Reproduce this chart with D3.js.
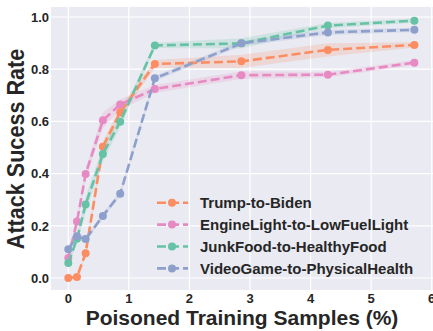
<!DOCTYPE html>
<html>
<head>
<meta charset="utf-8">
<script src="https://cdn.jsdelivr.net/npm/d3@7"></script>
<style>
  body { margin: 0; background: #fff; }
  text { font-family: "Liberation Sans", Arial, sans-serif; font-weight: bold; fill: #262626; }
</style>
</head>
<body>
<div id="canvas"></div>
<script>
const w = 433;
const h = 331;
const padL = 51, padR = 433, padT = 7, padB = 290;

// data
const samples = [0, 0.143, 0.286, 0.571, 0.857, 1.429, 2.857, 4.286, 5.714];
const names = ["Trump-to-Biden", "EngineLight-to-LowFuelLight", "JunkFood-to-HealthyFood", "VideoGame-to-PhysicalHealth"];
const colors = ["#fc8d62", "#e78ac3", "#66c2a5", "#8da0cb"];
const trump = [0.0, 0.004, 0.095, 0.503, 0.635, 0.82, 0.83, 0.874, 0.893];
const engine = [0.077, 0.216, 0.398, 0.604, 0.665, 0.724, 0.777, 0.779, 0.825];
const junk = [0.057, 0.15, 0.282, 0.475, 0.599, 0.891, 0.899, 0.967, 0.986];
const video = [0.11, 0.16, 0.149, 0.238, 0.323, 0.765, 0.899, 0.941, 0.951];
// half width of the shaded band
const trumpErr = [0.005, 0.005, 0.01, 0.02, 0.02, 0.015, 0.025, 0.025, 0.01];
const engineErr = [0.01, 0.015, 0.02, 0.03, 0.02, 0.015, 0.015, 0.01, 0.01];
const junkErr = [0.005, 0.02, 0.03, 0.03, 0.02, 0.01, 0.02, 0.01, 0.008];
const videoErr = [0.01, 0.015, 0.01, 0.01, 0.01, 0.01, 0.01, 0.01, 0.008];
const series = [trump, engine, junk, video];
const errs = [trumpErr, engineErr, junkErr, videoErr];
const xTicks = [0, 1, 2, 3, 4, 5, 6];
const yTicks = [0.0, 0.2, 0.4, 0.6, 0.8, 1.0];

let svg = d3.select("#canvas").append("svg").attr("width", w).attr("height", h);

let x = d3.scaleLinear().domain([0, 6]).range([68.3, 431.7]);
let y = d3.scaleLinear().domain([0, 1]).range([278, 17]);

svg.append("rect").attr("x", padL).attr("y", padT).attr("width", padR - padL).attr("height", padB - padT).attr("fill", "#eaeaf2");

let plot = svg.append("g");

plot.selectAll(".gx").data(xTicks).enter().append("line")
  .attr("x1", (d) => x(d)).attr("x2", (d) => x(d)).attr("y1", padT).attr("y2", padB)
  .attr("stroke", "#fff").attr("stroke-width", 1.2);
plot.selectAll(".gy").data(yTicks).enter().append("line")
  .attr("x1", padL).attr("x2", padR).attr("y1", (d) => y(d)).attr("y2", (d) => y(d))
  .attr("stroke", "#fff").attr("stroke-width", 1.2);

// tick labels
svg.selectAll(".xt").data(xTicks).enter().append("text")
  .attr("x", (d) => x(d)).attr("y", 303).attr("text-anchor", "middle")
  .attr("font-size", 13).text((d) => d);
svg.selectAll(".yt").data(yTicks).enter().append("text")
  .attr("x", 49).attr("y", (d) => y(d) + 4.7).attr("text-anchor", "end")
  .attr("font-size", 13).text((d) => d.toFixed(1));

let band = d3.area().x((d) => x(d.x)).y0((d) => y(d.lo)).y1((d) => y(d.hi));
let line = d3.line().x((d) => x(d.x)).y((d) => y(d.y));

series.forEach(function(s, k) {
  let pts = samples.map((v, i) => ({x: v, y: s[i], lo: s[i] - errs[k][i], hi: s[i] + errs[k][i]}));
  plot.append("path").datum(pts).attr("d", band).attr("fill", colors[k]).attr("opacity", 0.2);
});

series.forEach(function(s, k) {
  let pts = samples.map((v, i) => ({x: v, y: s[i]}));
  plot.append("path").datum(pts).attr("d", line).attr("fill", "none")
    .attr("stroke", colors[k]).attr("stroke-width", 2.6).attr("stroke-dasharray", "9,4");
  plot.selectAll(".m" + k).data(pts).enter().append("circle")
    .attr("cx", (d) => x(d.x)).attr("cy", (d) => y(d.y)).attr("r", 4)
    .attr("fill", colors[k]);
});

// legend (no frame)
let leg = svg.append("g");
names.forEach(function(n, k) {
  let ly = 202.7 + k * 21.9;
  leg.append("line").attr("x1", 157).attr("x2", 188).attr("y1", ly).attr("y2", ly)
    .attr("stroke", colors[k]).attr("stroke-width", 2.6).attr("stroke-dasharray", "9,4");
  leg.append("circle").attr("cx", 172).attr("cy", ly).attr("r", 4).attr("fill", colors[k]);
  leg.append("text").attr("x", 200).attr("y", ly + 5.6).attr("font-size", 15).text(n);
});

// axis titles
svg.append("text").attr("x", 242).attr("y", 325).attr("text-anchor", "middle")
  .attr("font-size", 21).text("Poisoned Training Samples (%)");
svg.append("text").attr("transform", "translate(24.3,149) rotate(-90) scale(1,1.12)").attr("text-anchor", "middle")
  .attr("font-size", 21.6).text("Attack Sucess Rate");
</script>
</body>
</html>
